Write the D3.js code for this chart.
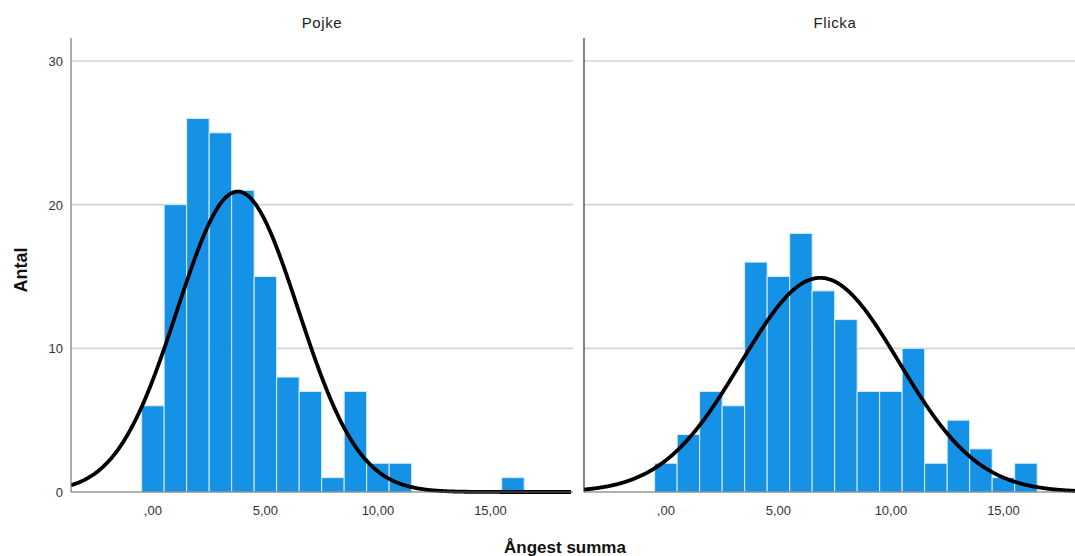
<!DOCTYPE html>
<html>
<head>
<meta charset="utf-8">
<script src="https://cdn.jsdelivr.net/npm/d3@7"></script>
<style>
  body { margin: 0; background: #fff; }
  svg { display: block; font-family: "Liberation Sans", Arial, sans-serif; }
</style>
</head>
<body>
<div id="chart"></div>
<script>
// histogram bins (centre of each bin, width 1)
const binCenters = [0, 1, 2, 3, 4, 5, 6, 7, 8, 9, 10, 11, 12, 13, 14, 15, 16];
const pojkeCounts = [6, 20, 26, 25, 21, 15, 8, 7, 1, 7, 2, 2, 0, 0, 0, 0, 1];
const flickaCounts = [2, 4, 7, 6, 16, 15, 18, 14, 12, 7, 7, 10, 2, 5, 3, 1, 2];
const panelNames = ["Pojke", "Flicka"];
const xTickValues = [0, 5, 10, 15];
const xTickLabels = [",00", "5,00", "10,00", "15,00"];
const yTickValues = [0, 10, 20, 30];

const width = 1075, height = 556;

var svg = d3.select("#chart")
    .append("svg")
    .attr("width", width)
    .attr("height", height);

var yscale = d3.scaleLinear()
    .domain([0, 31.6])
    .range([492, 38]);

const panels = [
    { name: panelNames[0], counts: pojkeCounts, x0: 71 },
    { name: panelNames[1], counts: flickaCounts, x0: 584 }
];
const panelW = 502;

panels.forEach((p, pi) => {
    var xscale = d3.scaleLinear()
        .domain([-3.64, 18.67])
        .range([p.x0, p.x0 + panelW]);

    var g = svg.append("g");

    // grid lines
    g.selectAll(".grid")
        .data(yTickValues.filter(v => v > 0))
        .enter()
        .append("line")
        .attr("x1", p.x0)
        .attr("x2", p.x0 + panelW)
        .attr("y1", d => yscale(d))
        .attr("y2", d => yscale(d))
        .style("stroke", "#d4d4d4")
        .style("stroke-width", 1.6);

    // bars
    var data = binCenters.map((c, i) => ({ c: c, n: p.counts[i] })).filter(d => d.n > 0);
    g.selectAll(".bar")
        .data(data)
        .enter()
        .append("rect")
        .attr("x", d => xscale(d.c - 0.5))
        .attr("width", d => xscale(d.c + 0.5) - xscale(d.c - 0.5))
        .attr("y", d => yscale(d.n))
        .attr("height", d => yscale(0) - yscale(d.n))
        .style("fill", "#1591e6")
        .style("stroke", "#d8ecfb")
        .style("stroke-width", 1);

    // normal curve from mean and sd of the binned data
    var N = d3.sum(p.counts);
    var mean = d3.sum(binCenters, (c, i) => c * p.counts[i]) / N;
    var ex2 = d3.sum(binCenters, (c, i) => c * c * p.counts[i]) / N;
    var sd = Math.sqrt((ex2 - mean * mean) * N / (N - 1));
    var dens = x => N / (sd * Math.sqrt(2 * Math.PI)) * Math.exp(-0.5 * Math.pow((x - mean) / sd, 2));
    var xs = d3.range(-3.64, 18.67, 0.05).concat([18.67]);

    var clipId = "clip" + pi;
    svg.append("clipPath").attr("id", clipId)
        .append("rect")
        .attr("x", p.x0).attr("y", 0)
        .attr("width", panelW - (pi == 0 ? 2 : 0)).attr("height", 500);

    g.append("path")
        .datum(xs)
        .attr("clip-path", `url(#${clipId})`)
        .attr("d", d3.line().x(d => xscale(d)).y(d => yscale(dens(d))).curve(d3.curveBasis))
        .style("fill", "none")
        .style("stroke", "#000")
        .style("stroke-width", 3.8);

    // baseline
    g.append("line")
        .attr("x1", p.x0).attr("x2", p.x0 + panelW)
        .attr("y1", yscale(0)).attr("y2", yscale(0))
        .style("stroke", "#666")
        .style("stroke-width", 1.2);

    // y axis line
    g.append("line")
        .attr("x1", p.x0).attr("x2", p.x0)
        .attr("y1", yscale(31.6)).attr("y2", yscale(0))
        .style("stroke", pi == 0 ? "#777" : "#333")
        .style("stroke-width", 1.2);

    // x tick labels
    g.selectAll(".xt")
        .data(xTickValues)
        .enter()
        .append("text")
        .attr("x", d => xscale(d))
        .attr("y", 515)
        .style("text-anchor", "middle")
        .style("font-size", "13px")
        .style("fill", "#333")
        .text((d, i) => xTickLabels[i]);

    // panel title
    g.append("text")
        .attr("x", p.x0 + panelW / 2)
        .attr("y", 28)
        .style("text-anchor", "middle")
        .style("font-size", "15px")
        .style("letter-spacing", "0.6px")
        .style("fill", "#222")
        .text(p.name);
});

// y tick labels (left panel only)
svg.selectAll(".yt")
    .data(yTickValues)
    .enter()
    .append("text")
    .attr("x", 63)
    .attr("y", d => yscale(d) + 5)
    .style("text-anchor", "end")
    .style("font-size", "13px")
    .style("fill", "#333")
    .text(d => d);

// axis titles
svg.append("text")
    .attr("transform", "translate(27,270) rotate(-90)")
    .style("text-anchor", "middle")
    .style("font-size", "18px")
    .style("font-weight", "bold")
    .style("fill", "#111")
    .text("Antal");

svg.append("text")
    .attr("x", 565)
    .attr("y", 553)
    .style("text-anchor", "middle")
    .style("font-size", "17px")
    .style("font-weight", "bold")
    .style("fill", "#111")
    .text("Ångest summa");
</script>
</body>
</html>
